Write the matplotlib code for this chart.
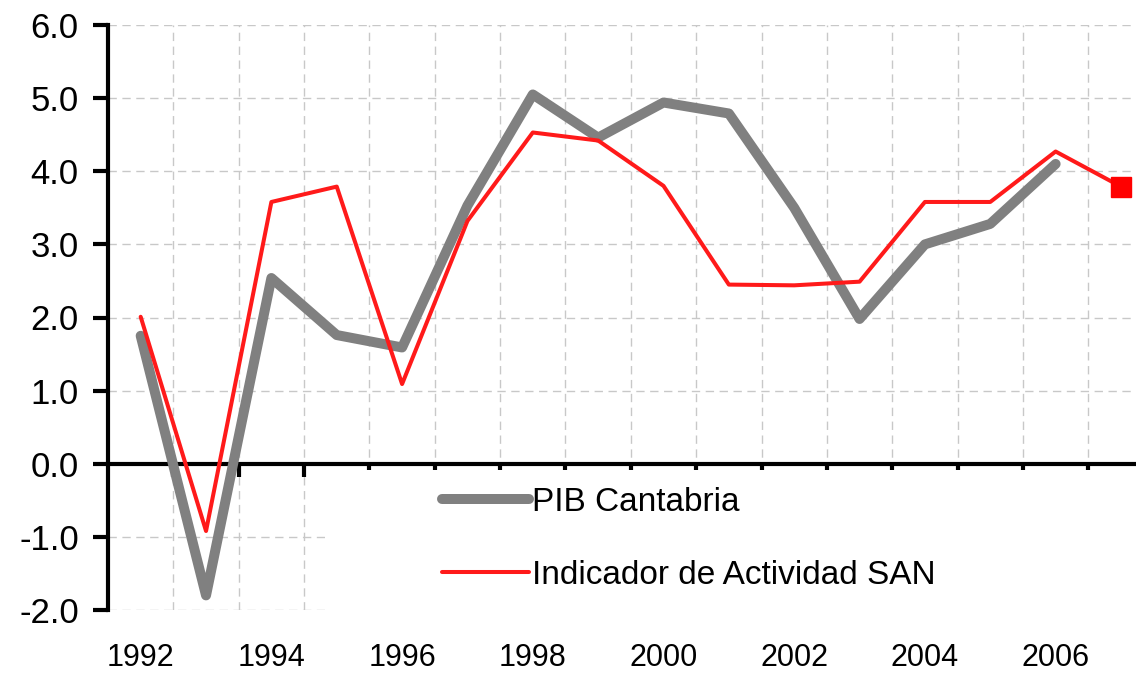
import numpy as np
import matplotlib.pyplot as plt
from matplotlib.patches import Rectangle

plt.rcParams['font.family'] = ['Liberation Sans', 'DejaVu Sans']

# --- Datos ---
anios_pib = [1992, 1993, 1994, 1995, 1996, 1997, 1998, 1999, 2000, 2001, 2002, 2003, 2004, 2005, 2006]
pib_cantabria = [1.75, -1.80, 2.54, 1.76, 1.59, 3.53, 5.05, 4.46, 4.94, 4.79, 3.50, 1.98, 3.00, 3.28, 4.10]

anios_san = [1992, 1993, 1994, 1995, 1996, 1997, 1998, 1999, 2000, 2001, 2002, 2003, 2004, 2005, 2006, 2007]
indicador_san = [2.01, -0.92, 3.58, 3.79, 1.09, 3.32, 4.53, 4.42, 3.80, 2.45, 2.44, 2.49, 3.58, 3.58, 4.27, 3.79]

etiquetas_x = [1992, 1994, 1996, 1998, 2000, 2002, 2004, 2006]
etiquetas_y = [-2, -1, 0, 1, 2, 3, 4, 5, 6]

# --- Figura ---
W, H = 1136, 673
fig = plt.figure(figsize=(W / 100, H / 100), dpi=100)
ax = fig.add_axes([108 / W, (H - 610) / H, (W - 108) / W, 585 / H])

ax.set_xlim(1991.5, 2007.23)
ax.set_ylim(-2, 6)

# rejilla punteada
for xv in np.arange(1992.5, 2007.5, 1.0):
    ax.axvline(xv, color='#c8c8c8', lw=1, ls=(0, (6, 4)), zorder=0)
for yv in etiquetas_y:
    ax.axhline(yv, color='#c8c8c8', lw=1, ls=(0, (6, 4)), zorder=0)

# fondo blanco de la leyenda
ax.add_patch(Rectangle(((325 - 108) / 1028, 0), 1, 0.25 - 6 / 585, transform=ax.transAxes,
                       facecolor='white', edgecolor='none', zorder=1))

ax.plot(anios_pib, pib_cantabria, color='#808080', lw=7.2, solid_capstyle='round',
        solid_joinstyle='round', label='PIB Cantabria', zorder=3)
ax.plot(anios_san, indicador_san, color='#ff1a1a', lw=2.9, solid_capstyle='round',
        label='Indicador de Actividad SAN', zorder=4)
ax.plot(anios_san[-1:], indicador_san[-1:], ls='none', marker='s', ms=15,
        color='#ff0000', zorder=5)

# ejes
for s in ['top', 'right', 'bottom']:
    ax.spines[s].set_visible(False)
ax.spines['left'].set_linewidth(3)
ax.set_yticks(etiquetas_y)
ax.set_yticklabels([f'{v:.1f}' for v in etiquetas_y], fontsize=25)
ax.tick_params(axis='y', length=11, width=3, pad=10)

ax.set_xticks(etiquetas_x)
ax.set_xticklabels([str(v) for v in etiquetas_x], fontsize=22)
ax.tick_params(axis='x', length=0, pad=24)

eje0 = ax.secondary_xaxis(0.25)
eje0.spines['bottom'].set_linewidth(3)
eje0.set_xticks(np.arange(1992.5, 2007.5, 1.0))
eje0.set_xticklabels([])
eje0.tick_params(axis='x', length=9, width=3, direction='out')

ax.legend(loc='upper left', bbox_to_anchor=(412 / W, (H - 457) / H),
          bbox_transform=fig.transFigure, frameon=False, fontsize=24,
          handlelength=2.6, handletextpad=0.1, labelspacing=1.25)

fig.savefig('out.png', dpi=100)
